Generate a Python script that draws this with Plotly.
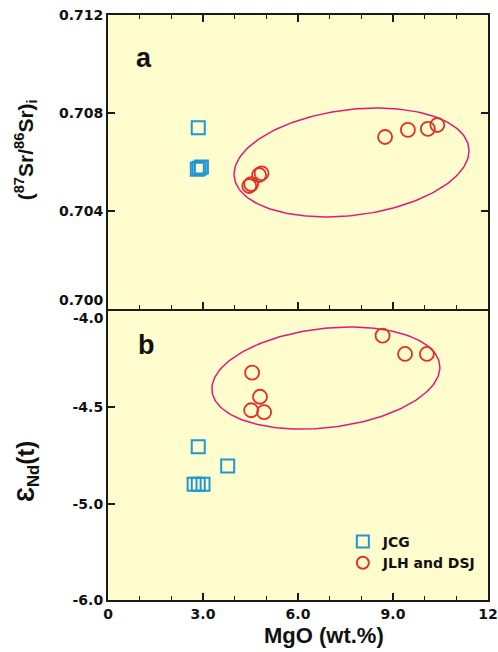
import numpy as np
import plotly.graph_objects as go

# ---------------- data ----------------
# Panel a: (87Sr/86Sr)i vs MgO
jcg_mgo_a = [2.85, 2.82, 2.95, 2.88]
jcg_sr = [0.7074, 0.7057, 0.7058, 0.70575]
jlh_mgo_a = [4.46, 4.52, 4.77, 4.85, 8.75, 9.47, 10.1, 10.4]
jlh_sr = [0.70502, 0.70510, 0.70547, 0.70554, 0.70702, 0.70731, 0.70735, 0.70751]

# Panel b: eNd(t) vs MgO
jcg_mgo_b = [2.85, 3.78, 2.72, 2.85, 3.0]
jcg_nd = [-4.705, -4.804, -4.899, -4.899, -4.899]
jlh_mgo_b = [8.67, 9.38, 10.07, 4.55, 4.80, 4.52, 4.93]
jlh_nd = [-4.128, -4.223, -4.223, -4.32, -4.445, -4.515, -4.525]

# Ellipse guides: centre x, centre y, half-extent x, half-extent y, x-offset of top point
ell_a = dict(cx=7.69, cy=0.70598, hx=3.71, hy=0.00222, dxt=0.80)
ell_b = dict(cx=6.88, cy=-4.348, hx=3.60, hy=0.265, dxt=0.76)

x_ticks = [0, 3, 6, 9, 12]
x_ticktext = ["0", "3.0", "6.0", "9.0", "12"]
sr_ticks = [0.712, 0.708, 0.704]
sr_ticktext = ["0.712", "0.708", "0.704"]
nd_ticks = [-4.5, -5.0, -5.5]
nd_ticktext = ["-4.5", "-5.0", "-6.0"]

BLUE = "#1f97d4"
RED = "#e0302a"
PINK = "#e0197a"
BG = "#fffdcd"

SPLIT = 0.494
LW = 2


def ellipse(p, n=200):
    t = np.linspace(0, 2 * np.pi, n)
    sxx = p["hx"] ** 2
    syy = p["hy"] ** 2
    sxy = p["dxt"] * p["hy"]
    l11 = np.sqrt(sxx)
    l21 = sxy / l11
    l22 = np.sqrt(syy - l21 ** 2)
    x = p["cx"] + l11 * np.cos(t)
    y = p["cy"] + l21 * np.cos(t) + l22 * np.sin(t)
    return x, y


fig = go.Figure()

ea_x, ea_y = ellipse(ell_a)
eb_x, eb_y = ellipse(ell_b)
fig.add_trace(go.Scatter(x=ea_x, y=ea_y, mode="lines", line=dict(color=PINK, width=1.5),
                         xaxis="x2", yaxis="y2", showlegend=False, hoverinfo="skip"))
fig.add_trace(go.Scatter(x=eb_x, y=eb_y, mode="lines", line=dict(color=PINK, width=1.5),
                         xaxis="x", yaxis="y", showlegend=False, hoverinfo="skip"))

sq = dict(symbol="square-open", size=13, color=BLUE, line=dict(width=2, color=BLUE))
ci = dict(symbol="circle-open", size=14, color=RED, line=dict(width=1.8, color=RED))

fig.add_trace(go.Scatter(x=jcg_mgo_a, y=jcg_sr, mode="markers", marker=sq,
                         xaxis="x2", yaxis="y2", showlegend=False))
fig.add_trace(go.Scatter(x=jlh_mgo_a, y=jlh_sr, mode="markers", marker=ci,
                         xaxis="x2", yaxis="y2", showlegend=False))
fig.add_trace(go.Scatter(x=jcg_mgo_b, y=jcg_nd, mode="markers", marker=sq,
                         xaxis="x", yaxis="y", name="JCG"))
fig.add_trace(go.Scatter(x=jlh_mgo_b, y=jlh_nd, mode="markers", marker=ci,
                         xaxis="x", yaxis="y", name="JLH and DSJ"))

tickfont = dict(family="DejaVu Sans", size=14, color="#111", weight="bold")
axline = dict(showline=True, linecolor="#1a1a1a", linewidth=LW, showgrid=False, zeroline=False,
              automargin=False)
minor = dict(dtick=1, tick0=0, ticks="inside", ticklen=4, tickwidth=1.2, tickcolor="#1a1a1a")

fig.update_layout(
    width=498, height=652,
    margin=dict(l=108, r=10, t=15, b=52, autoexpand=False),
    paper_bgcolor="white", plot_bgcolor=BG,
    xaxis=dict(range=[0, 12], anchor="y", tickmode="array", tickvals=x_ticks, ticktext=x_ticktext,
               ticks="inside", ticklen=7, tickwidth=1.5, tickcolor="#1a1a1a", mirror=True,
               tickfont=tickfont, minor=minor, **axline),
    xaxis2=dict(range=[0, 12], anchor="y2", matches="x", tickmode="array", tickvals=x_ticks,
                showticklabels=False,
                ticks="inside", ticklen=7, tickwidth=1.5, tickcolor="#1a1a1a", mirror="ticks",
                minor=minor, **axline),
    yaxis=dict(domain=[0, SPLIT], range=[-5.5, -4.0], tickmode="array", tickvals=nd_ticks,
               ticktext=nd_ticktext, ticks="inside", ticklen=7, tickwidth=1.5, tickcolor="#1a1a1a",
               mirror=True, tickfont=tickfont, **axline),
    yaxis2=dict(domain=[SPLIT + LW / 585, 1], range=[0.700, 0.712], anchor="x2", tickmode="array",
                tickvals=sr_ticks, ticktext=sr_ticktext, ticks="inside", ticklen=7, tickwidth=1.5,
                tickcolor="#1a1a1a", mirror="ticks", tickfont=tickfont, **axline),
    legend=dict(x=0.618, y=0.1265, xanchor="left", yanchor="top", bgcolor="rgba(0,0,0,0)",
                font=dict(family="DejaVu Sans", size=14, color="#111", weight="bold"),
                tracegroupgap=0, itemsizing="constant"),
    showlegend=True,
)

ann_font = dict(family="Liberation Sans", color="#111", weight="bold")
fig.add_annotation(x=-0.005, y=0.700, xref="paper", yref="y2", text="0.700", showarrow=False,
                   xanchor="right", yanchor="bottom", yshift=-1, font=tickfont)
fig.add_annotation(x=-0.005, y=-4.0, xref="paper", yref="y", text="-4.0", showarrow=False,
                   xanchor="right", yanchor="top", yshift=3, font=tickfont)
fig.add_annotation(x=-0.218, y=0.769, xref="paper", yref="paper", textangle=-90,
                   xanchor="center", yanchor="middle",
                   text="(<sup>87</sup>Sr/<sup>86</sup>Sr)<sub>i</sub>", showarrow=False,
                   font=dict(size=21, **ann_font))
fig.add_annotation(x=-0.21, y=0.219, xref="paper", yref="paper", textangle=-90,
                   xanchor="center", yanchor="middle",
                   text="Ɛ<sub>Nd</sub>(t)", showarrow=False, font=dict(size=24, **ann_font))
fig.add_annotation(x=0.568, y=-0.0615, xref="paper", yref="paper", text="MgO (wt.%)",
                   xanchor="center", yanchor="middle",
                   showarrow=False, font=dict(size=22, **ann_font))
fig.add_annotation(x=0.0947, y=0.9265, xref="paper", yref="paper", text="a",
                   xanchor="center", yanchor="middle",
                   showarrow=False, font=dict(size=27, **ann_font))
fig.add_annotation(x=0.1, y=0.436, xref="paper", yref="paper", text="b",
                   xanchor="center", yanchor="middle",
                   showarrow=False, font=dict(size=27, **ann_font))

fig.write_html("out.html")
